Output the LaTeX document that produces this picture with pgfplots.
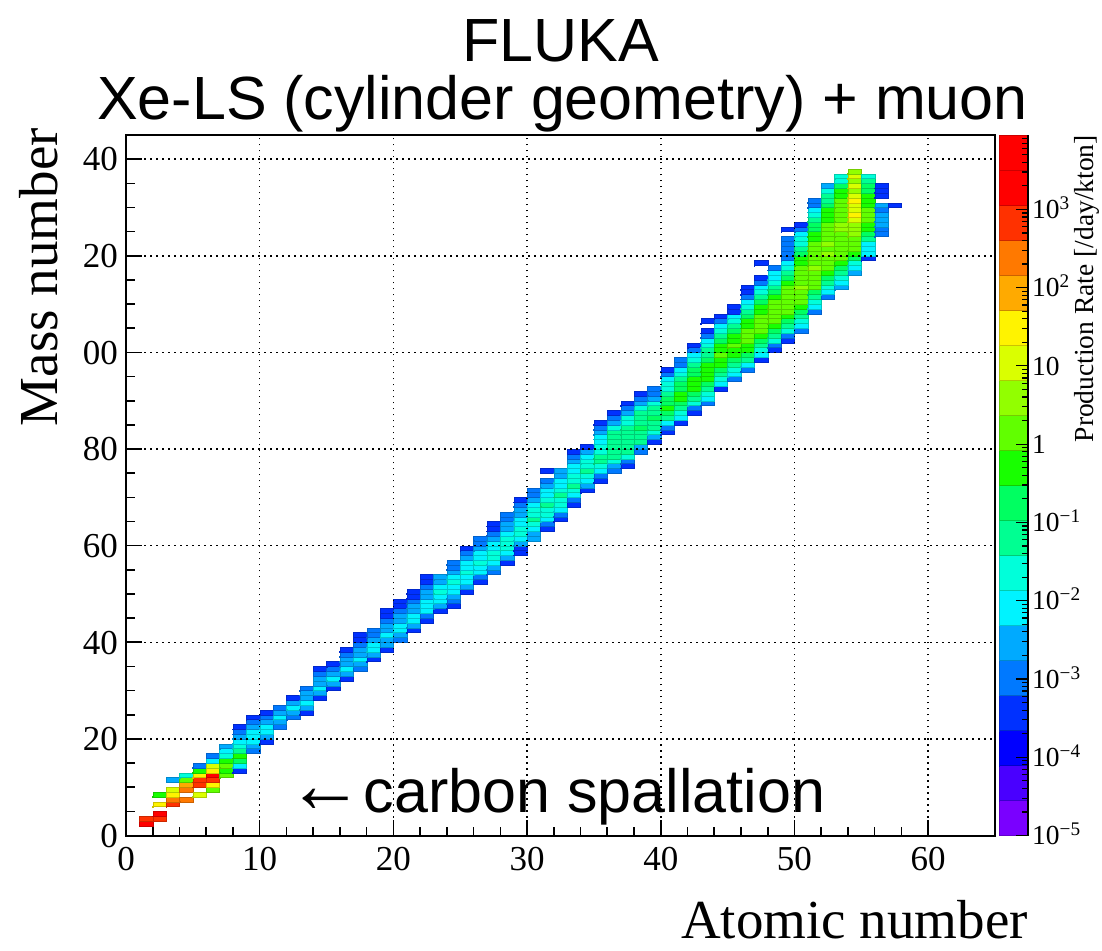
\documentclass[border=0pt]{standalone}
\usepackage{pgfplots}
\pgfplotsset{compat=1.18}
\usepackage{fontspec}
\setmainfont{Liberation Serif}
\newfontfamily\arialf{Liberation Sans}
\pgfplotsset{
  colormap={rootpal}{rgb255=(122,0,255) rgb255=(73,0,255) rgb255=(0,0,255) rgb255=(0,49,255) rgb255=(0,121,255) rgb255=(0,170,255) rgb255=(0,243,255) rgb255=(0,255,218) rgb255=(0,255,146) rgb255=(0,255,97) rgb255=(0,255,24) rgb255=(24,255,0) rgb255=(97,255,0) rgb255=(146,255,0) rgb255=(218,255,0) rgb255=(255,243,0) rgb255=(255,170,0) rgb255=(255,121,0) rgb255=(255,49,0) rgb255=(255,0,0) rgb255=(255,0,0)},
}
\begin{document}
\begin{tikzpicture}
\begin{axis}[
  scale only axis, width=869pt, height=700.5pt,
  at={(0pt,0pt)}, anchor=south west,
  xmin=0, xmax=65, ymin=0, ymax=145,
  xtick={0,10,20,30,40,50,60}, xticklabels={0,10,20,30,40,50,60},
  ytick={0,20,40,60,80,100,120,140}, yticklabels={0,20,40,60,80,00,20,40},
  minor x tick num=4, minor y tick num=3,
  tick align=inside, tick pos=left,
  major tick length=16pt, minor tick length=9pt,
  every tick/.append style={black, line width=1.6pt},
  axis line style={line width=2pt},
  grid=major,
  major grid style={black, line width=1.5pt, dash pattern=on 1.5pt off 4.5pt},
  axis on top, clip marker paths=true,
  tick label style={font=\fontsize{35}{35}\selectfont, inner sep=0pt},
  xticklabel style={anchor=base, yshift=-35.2pt},
  yticklabel style={anchor=base east, xshift=-8pt, yshift=-11.8pt},
  colormap name=rootpal,
  colormap access=piecewise constant,
  point meta min=-5, point meta max=3.95,
]
\addplot[scatter, only marks, mark=square*, mark size=0.3pt, point meta=explicit,
  scatter/@pre marker code/.append code={\filldraw[line width=0.25pt] (axis direction cs:0,0) rectangle (axis direction cs:1,1);}]
coordinates {
(1,2)[3.7] (1,3)[2.8]
(2,3)[2.8] (2,4)[3.7] (2,6)[1.5] (2,8)[-0.3]
(3,6)[2.8] (3,7)[2.4] (3,8)[1.5] (3,9)[1.0] (3,11)[-2.5]
(4,7)[2.4] (4,9)[2.4] (4,10)[1.9] (4,11)[0.15] (4,12)[-1.6]
(5,8)[1.0] (5,10)[2.8] (5,11)[2.8] (5,12)[1.5] (5,13)[-0.3] (5,14)[-3.0]
(6,9)[0.15] (6,10)[1.5] (6,11)[2.8] (6,12)[3.3] (6,13)[1.5] (6,14)[1.0] (6,15)[-2.1] (6,16)[-3.0]
(7,12)[0.15] (7,13)[-0.3] (7,14)[0.15] (7,15)[-0.3] (7,16)[-1.6] (7,17)[-2.1] (7,18)[-2.5]
(8,13)[-3.4] (8,14)[-2.1] (8,15)[-0.75] (8,16)[-0.3] (8,17)[-1.2] (8,18)[-1.6] (8,19)[-2.1] (8,20)[-2.5] (8,21)[-3.0] (8,22)[-3.4]
(9,17)[-3.0] (9,18)[-2.5] (9,19)[-2.1] (9,20)[-2.1] (9,21)[-2.1] (9,22)[-2.5] (9,23)[-3.0] (9,24)[-3.4]
(10,19)[-3.4] (10,20)[-2.5] (10,21)[-2.1] (10,22)[-2.1] (10,23)[-2.5] (10,24)[-3.0] (10,25)[-3.4]
(11,22)[-3.0] (11,23)[-2.5] (11,24)[-2.1] (11,25)[-2.5] (11,26)[-3.0]
(12,24)[-3.0] (12,25)[-2.5] (12,26)[-2.1] (12,27)[-2.5] (12,28)[-3.4]
(13,25)[-3.4] (13,26)[-2.5] (13,27)[-2.1] (13,28)[-2.5] (13,29)[-2.5] (13,30)[-3.0]
(14,28)[-3.4] (14,29)[-2.5] (14,30)[-2.1] (14,31)[-2.5] (14,32)[-2.5] (14,33)[-3.0] (14,34)[-3.4]
(15,30)[-3.4] (15,31)[-2.5] (15,32)[-2.1] (15,33)[-2.5] (15,34)[-3.0] (15,35)[-3.4]
(16,32)[-3.4] (16,33)[-2.5] (16,34)[-2.1] (16,35)[-2.5] (16,36)[-2.5] (16,37)[-3.0] (16,38)[-3.4]
(17,34)[-3.0] (17,35)[-2.5] (17,36)[-2.1] (17,37)[-2.5] (17,38)[-2.5] (17,39)[-3.0] (17,40)[-3.4] (17,41)[-3.4]
(18,36)[-3.4] (18,37)[-2.5] (18,38)[-2.1] (18,39)[-2.1] (18,40)[-2.5] (18,41)[-3.0] (18,42)[-3.0]
(19,38)[-3.4] (19,39)[-2.5] (19,40)[-2.5] (19,41)[-2.1] (19,42)[-2.5] (19,43)[-2.5] (19,44)[-3.0] (19,45)[-3.4] (19,46)[-3.4]
(20,40)[-3.0] (20,41)[-2.5] (20,42)[-2.1] (20,43)[-2.1] (20,44)[-2.5] (20,45)[-2.5] (20,46)[-3.0] (20,47)[-3.4] (20,48)[-3.4]
(21,42)[-3.4] (21,43)[-2.5] (21,44)[-2.1] (21,45)[-2.1] (21,46)[-2.5] (21,47)[-2.5] (21,48)[-3.0] (21,49)[-3.4] (21,50)[-3.4]
(22,44)[-3.4] (22,45)[-3.0] (22,46)[-2.1] (22,47)[-2.1] (22,48)[-2.1] (22,49)[-2.5] (22,50)[-2.5] (22,51)[-3.0] (22,52)[-3.4] (22,53)[-3.4]
(23,46)[-3.4] (23,47)[-2.5] (23,48)[-2.1] (23,49)[-2.1] (23,50)[-1.6] (23,51)[-2.1] (23,52)[-2.5] (23,53)[-2.5]
(24,47)[-3.4] (24,48)[-3.0] (24,49)[-2.5] (24,50)[-2.1] (24,51)[-2.1] (24,52)[-1.6] (24,53)[-2.1] (24,54)[-2.5] (24,55)[-3.0] (24,56)[-3.0]
(25,50)[-3.4] (25,51)[-2.5] (25,52)[-2.1] (25,53)[-2.1] (25,54)[-1.6] (25,55)[-2.1] (25,56)[-2.1] (25,57)[-2.5] (25,58)[-3.0] (25,59)[-3.4]
(26,52)[-3.4] (26,53)[-3.0] (26,54)[-2.1] (26,55)[-2.1] (26,56)[-1.6] (26,57)[-2.1] (26,58)[-2.1] (26,59)[-2.5] (26,60)[-3.0] (26,61)[-3.0]
(27,54)[-3.0] (27,55)[-2.5] (27,56)[-2.1] (27,57)[-1.6] (27,58)[-1.6] (27,59)[-2.1] (27,60)[-2.1] (27,61)[-2.5] (27,62)[-3.0] (27,63)[-3.4] (27,64)[-3.4]
(28,56)[-3.4] (28,57)[-2.5] (28,58)[-2.1] (28,59)[-1.6] (28,60)[-1.6] (28,61)[-1.6] (28,62)[-2.1] (28,63)[-2.5] (28,64)[-2.5] (28,65)[-3.0] (28,66)[-3.0]
(29,58)[-3.4] (29,59)[-3.4] (29,60)[-2.5] (29,61)[-2.1] (29,62)[-1.6] (29,63)[-1.6] (29,64)[-2.1] (29,65)[-2.1] (29,66)[-2.5] (29,67)[-2.5] (29,68)[-3.0] (29,69)[-3.4]
(30,61)[-2.5] (30,62)[-2.5] (30,63)[-2.1] (30,64)[-1.6] (30,65)[-1.2] (30,66)[-1.6] (30,67)[-1.6] (30,68)[-2.1] (30,69)[-2.5] (30,70)[-3.0] (30,71)[-3.0]
(31,63)[-3.4] (31,64)[-3.0] (31,65)[-2.1] (31,66)[-1.6] (31,67)[-1.6] (31,68)[-1.2] (31,69)[-1.6] (31,70)[-2.1] (31,71)[-2.1] (31,72)[-2.5] (31,73)[-3.0] (31,75)[-3.4]
(32,65)[-3.4] (32,66)[-3.0] (32,67)[-2.1] (32,68)[-1.6] (32,69)[-1.6] (32,70)[-1.2] (32,71)[-1.6] (32,72)[-2.1] (32,73)[-2.1] (32,74)[-2.5] (32,75)[-2.5]
(33,68)[-3.4] (33,69)[-3.0] (33,70)[-2.1] (33,71)[-1.6] (33,72)[-1.2] (33,73)[-1.6] (33,74)[-1.6] (33,75)[-2.1] (33,76)[-2.1] (33,77)[-2.5] (33,78)[-3.0] (33,79)[-3.4]
(34,71)[-3.4] (34,72)[-2.5] (34,73)[-2.1] (34,74)[-1.6] (34,75)[-1.2] (34,76)[-1.6] (34,77)[-1.6] (34,78)[-2.1] (34,79)[-2.5] (34,80)[-3.4]
(35,73)[-3.4] (35,74)[-3.0] (35,75)[-2.1] (35,76)[-1.6] (35,77)[-1.2] (35,78)[-1.2] (35,79)[-1.6] (35,80)[-1.6] (35,81)[-2.1] (35,82)[-2.1] (35,83)[-2.5] (35,84)[-3.0] (35,85)[-3.4]
(36,75)[-3.0] (36,76)[-2.5] (36,77)[-1.6] (36,78)[-1.2] (36,79)[-1.2] (36,80)[-1.2] (36,81)[-1.2] (36,82)[-1.2] (36,83)[-1.2] (36,84)[-1.6] (36,85)[-2.5] (36,86)[-3.0] (36,87)[-3.4]
(37,76)[-3.4] (37,77)[-3.0] (37,78)[-1.6] (37,79)[-1.2] (37,80)[-1.2] (37,81)[-1.2] (37,82)[-1.2] (37,83)[-1.2] (37,84)[-1.2] (37,85)[-1.6] (37,86)[-1.6] (37,87)[-2.5] (37,88)[-3.0] (37,89)[-3.4]
(38,79)[-3.0] (38,80)[-2.5] (38,81)[-1.2] (38,82)[-1.2] (38,83)[-1.2] (38,84)[-0.75] (38,85)[-1.2] (38,86)[-1.2] (38,87)[-1.2] (38,88)[-1.6] (38,89)[-2.5] (38,90)[-3.0] (38,91)[-3.4]
(39,81)[-3.4] (39,82)[-2.5] (39,83)[-1.6] (39,84)[-1.2] (39,85)[-1.2] (39,86)[-0.75] (39,87)[-1.2] (39,88)[-1.2] (39,89)[-1.6] (39,90)[-2.5] (39,91)[-3.0] (39,92)[-3.0]
(40,83)[-3.4] (40,84)[-3.0] (40,85)[-2.1] (40,86)[-1.2] (40,87)[-0.75] (40,88)[-0.3] (40,89)[-0.75] (40,90)[-0.75] (40,91)[-1.2] (40,92)[-1.6] (40,93)[-1.6] (40,94)[-2.1] (40,95)[-3.0] (40,96)[-3.4]
(41,85)[-3.4] (41,86)[-2.1] (41,87)[-1.6] (41,88)[-1.2] (41,89)[-0.75] (41,90)[-0.3] (41,91)[-0.3] (41,92)[-0.75] (41,93)[-0.75] (41,94)[-1.2] (41,95)[-1.6] (41,96)[-2.1] (41,97)[-3.0] (41,98)[-3.0]
(42,87)[-3.4] (42,88)[-3.0] (42,89)[-1.6] (42,90)[-1.2] (42,91)[-0.75] (42,92)[-0.3] (42,93)[-0.3] (42,94)[-0.3] (42,95)[-0.75] (42,96)[-0.75] (42,97)[-1.2] (42,98)[-1.6] (42,99)[-2.1] (42,100)[-3.0] (42,101)[-3.4]
(43,89)[-3.0] (43,90)[-2.1] (43,91)[-1.6] (43,92)[-1.2] (43,93)[-0.75] (43,94)[-0.3] (43,95)[-0.3] (43,96)[-0.3] (43,97)[-0.3] (43,98)[-0.75] (43,99)[-1.2] (43,100)[-1.2] (43,101)[-1.6] (43,102)[-2.1] (43,103)[-3.0] (43,104)[-3.4] (43,106)[-3.4]
(44,92)[-3.4] (44,93)[-2.1] (44,94)[-1.6] (44,95)[-1.2] (44,96)[-0.75] (44,97)[-0.3] (44,98)[-0.3] (44,99)[0.15] (44,100)[-0.3] (44,101)[-0.3] (44,102)[-0.75] (44,103)[-1.2] (44,104)[-1.6] (44,105)[-2.1] (44,106)[-3.0] (44,107)[-3.4]
(45,94)[-3.0] (45,95)[-2.1] (45,96)[-1.6] (45,97)[-1.2] (45,98)[-0.75] (45,99)[-0.3] (45,100)[-0.3] (45,101)[0.15] (45,102)[-0.3] (45,103)[-0.3] (45,104)[-0.75] (45,105)[-1.2] (45,106)[-1.6] (45,107)[-2.1] (45,108)[-3.4] (45,109)[-3.4]
(46,96)[-3.0] (46,97)[-2.1] (46,98)[-1.2] (46,99)[-0.75] (46,100)[-0.3] (46,101)[-0.3] (46,102)[0.15] (46,103)[0.15] (46,104)[0.15] (46,105)[-0.3] (46,106)[-0.3] (46,107)[-0.75] (46,108)[-1.2] (46,109)[-1.6] (46,110)[-2.1] (46,111)[-3.0] (46,112)[-3.4] (46,113)[-3.4]
(47,98)[-3.4] (47,99)[-2.1] (47,100)[-1.6] (47,101)[-1.2] (47,102)[-0.75] (47,103)[-0.3] (47,104)[0.15] (47,105)[0.15] (47,106)[0.15] (47,107)[0.15] (47,108)[-0.3] (47,109)[-0.3] (47,110)[-0.75] (47,111)[-1.2] (47,112)[-1.6] (47,113)[-2.1] (47,114)[-3.0] (47,115)[-3.4] (47,118)[-3.4]
(48,100)[-3.4] (48,101)[-3.0] (48,102)[-1.6] (48,103)[-1.2] (48,104)[-0.75] (48,105)[-0.3] (48,106)[0.15] (48,107)[0.15] (48,108)[0.15] (48,109)[0.15] (48,110)[0.15] (48,111)[-0.3] (48,112)[-0.75] (48,113)[-1.2] (48,114)[-1.6] (48,115)[-2.1] (48,116)[-2.1] (48,117)[-3.0]
(49,102)[-3.4] (49,103)[-3.0] (49,104)[-1.6] (49,105)[-1.2] (49,106)[-0.75] (49,107)[-0.3] (49,108)[0.15] (49,109)[0.15] (49,110)[0.15] (49,111)[0.15] (49,112)[0.15] (49,113)[0.15] (49,114)[-0.3] (49,115)[-0.75] (49,116)[-1.2] (49,117)[-1.6] (49,118)[-2.1] (49,119)[-3.0] (49,120)[-3.0] (49,121)[-3.0] (49,122)[-3.0] (49,123)[-3.0] (49,125)[-3.4]
(50,104)[-3.0] (50,105)[-2.1] (50,106)[-1.6] (50,107)[-1.2] (50,108)[-0.75] (50,109)[-0.3] (50,110)[0.15] (50,111)[0.15] (50,112)[0.15] (50,113)[0.6] (50,114)[0.15] (50,115)[0.15] (50,116)[0.15] (50,117)[0.15] (50,118)[-0.3] (50,119)[-0.3] (50,120)[-0.75] (50,121)[-1.2] (50,122)[-1.6] (50,123)[-1.6] (50,124)[-2.1] (50,125)[-3.0] (50,126)[-3.4]
(51,108)[-3.0] (51,109)[-2.1] (51,110)[-1.6] (51,111)[-1.2] (51,112)[-0.75] (51,113)[0.15] (51,114)[0.15] (51,115)[0.15] (51,116)[0.15] (51,117)[0.6] (51,118)[0.15] (51,119)[0.15] (51,120)[0.15] (51,121)[0.15] (51,122)[0.15] (51,123)[-0.3] (51,124)[-0.3] (51,125)[-0.75] (51,126)[-0.75] (51,127)[-1.2] (51,128)[-1.6] (51,129)[-2.1] (51,130)[-3.0] (51,131)[-3.0]
(52,111)[-3.0] (52,112)[-2.1] (52,113)[-1.6] (52,114)[-1.2] (52,115)[-0.75] (52,116)[-0.3] (52,117)[0.15] (52,118)[0.15] (52,119)[0.15] (52,120)[0.6] (52,121)[0.15] (52,122)[0.6] (52,123)[0.15] (52,124)[0.15] (52,125)[0.15] (52,126)[0.15] (52,127)[-0.3] (52,128)[-0.3] (52,129)[-0.3] (52,130)[-0.75] (52,131)[-1.2] (52,132)[-1.2] (52,133)[-1.6] (52,134)[-2.5]
(53,113)[-2.5] (53,114)[-2.1] (53,115)[-1.6] (53,116)[-1.2] (53,117)[-0.75] (53,118)[-0.3] (53,119)[0.15] (53,120)[0.15] (53,121)[0.15] (53,122)[0.15] (53,123)[0.15] (53,124)[0.15] (53,125)[0.6] (53,126)[0.6] (53,127)[0.15] (53,128)[0.15] (53,129)[0.15] (53,130)[0.15] (53,131)[0.15] (53,132)[-0.3] (53,133)[-0.3] (53,134)[-0.75] (53,135)[-1.6] (53,136)[-1.6]
(54,116)[-2.5] (54,117)[-2.1] (54,118)[-1.6] (54,119)[-0.75] (54,120)[-0.3] (54,121)[0.15] (54,122)[0.15] (54,123)[0.15] (54,124)[0.6] (54,125)[0.6] (54,126)[0.6] (54,127)[1.0] (54,128)[1.5] (54,129)[1.0] (54,130)[1.0] (54,131)[1.5] (54,132)[1.0] (54,133)[0.6] (54,134)[1.0] (54,135)[0.6] (54,136)[1.0] (54,137)[0.6]
(55,119)[-3.4] (55,120)[-2.1] (55,121)[-2.1] (55,122)[-2.1] (55,123)[-1.2] (55,124)[-0.75] (55,125)[-0.3] (55,126)[-0.3] (55,127)[0.15] (55,128)[0.15] (55,129)[0.15] (55,130)[-0.3] (55,131)[-0.3] (55,132)[-0.3] (55,133)[-0.75] (55,134)[-0.75] (55,135)[-1.2] (55,136)[-1.6]
(56,124)[-3.0] (56,125)[-3.0] (56,126)[-2.5] (56,127)[-2.5] (56,128)[-2.5] (56,129)[-3.0] (56,130)[-2.5] (56,132)[-3.4] (56,133)[-3.4] (56,134)[-3.4]
(57,130)[-3.4]
};
\end{axis}
% colour scale (palette axis)
\begin{axis}[
  scale only axis, width=29pt, height=700.5pt,
  at={(873pt,0pt)}, anchor=south west,
  xmin=0, xmax=1, ymin=-5, ymax=3.95,
  xtick=\empty,
  ytick pos=right, yticklabel pos=right,
  axis line style={draw=none},
  ytick={-5,-4,-3,-2,-1,0,1,2,3},
  yticklabels={10\textsuperscript{−5},10\textsuperscript{−4},10\textsuperscript{−3},10\textsuperscript{−2},10\textsuperscript{−1},1,10,10\textsuperscript{2},10\textsuperscript{3}},
  minor ytick={-4.699,-4.523,-4.398,-4.301,-4.222,-4.155,-4.097,-4.046,
    -3.699,-3.523,-3.398,-3.301,-3.222,-3.155,-3.097,-3.046,
    -2.699,-2.523,-2.398,-2.301,-2.222,-2.155,-2.097,-2.046,
    -1.699,-1.523,-1.398,-1.301,-1.222,-1.155,-1.097,-1.046,
    -0.699,-0.523,-0.398,-0.301,-0.222,-0.155,-0.097,-0.046,
    0.301,0.477,0.602,0.699,0.778,0.845,0.903,0.954,
    1.301,1.477,1.602,1.699,1.778,1.845,1.903,1.954,
    2.301,2.477,2.602,2.699,2.778,2.845,2.903,2.954,
    3.301,3.477,3.602,3.699,3.778,3.845,3.903},
  tick align=inside,
  major tick length=12pt, minor tick length=6pt,
  every tick/.append style={black, line width=1.2pt},
  yticklabel style={font=\fontsize{27.5}{27.5}\selectfont, inner sep=0pt, anchor=base west, xshift=4pt, yshift=-9.25pt},
  axis on top, clip marker paths=true,
  colormap name=rootpal,
  colormap access=piecewise constant,
  point meta min=-5, point meta max=3.95,
]
\addplot[scatter, only marks, mark=square*, mark size=0.3pt, point meta=explicit,
  scatter/@pre marker code/.append code={\fill (axis direction cs:0,0) rectangle (axis direction cs:1,0.4475);}]
coordinates {
(0,-5)[-4.776] (0,-4.5525)[-4.329] (0,-4.105)[-3.881] (0,-3.6575)[-3.434] (0,-3.21)[-2.986]
(0,-2.7625)[-2.539] (0,-2.315)[-2.091] (0,-1.8675)[-1.644] (0,-1.42)[-1.196] (0,-0.9725)[-0.749]
(0,-0.525)[-0.301] (0,-0.0775)[0.146] (0,0.37)[0.594] (0,0.8175)[1.041] (0,1.265)[1.489]
(0,1.7125)[1.936] (0,2.16)[2.384] (0,2.6075)[2.831] (0,3.055)[3.279] (0,3.5025)[3.726]
};
\end{axis}
\draw[black, line width=1.5pt] (902pt,0pt) -- (902pt,700.5pt);
\node[font=\arialf\fontsize{61}{61}\selectfont, anchor=base, inner sep=0pt] at (435pt,773.5pt) {FLUKA};
\node[font=\arialf\fontsize{61}{61}\selectfont, anchor=base, inner sep=0pt] at (436.5pt,715.5pt) {Xe-LS (cylinder geometry) + muon};
\node[font=\fontsize{55}{55}\selectfont, rotate=90, anchor=base east, inner sep=0pt] at (-69pt,707.5pt) {Mass number};
\node[font=\fontsize{55}{55}\selectfont, anchor=base east, inner sep=0pt] at (902pt,-102.5pt) {Atomic number};
\node[font=\fontsize{27.5}{27.5}\selectfont, rotate=90, anchor=base east, inner sep=0pt] at (967pt,700.5pt) {Production Rate [/day/kton]};
\node[font=\arialf\fontsize{61}{61}\selectfont, anchor=base west, inner sep=0pt] at (161.5pt,23.5pt) {\scalebox{1.25}[1.35]{←}carbon spallation};
\pgfresetboundingbox
\path[use as bounding box] (-126pt,-114.5pt) rectangle (976pt,835.5pt);
\end{tikzpicture}
\end{document}
